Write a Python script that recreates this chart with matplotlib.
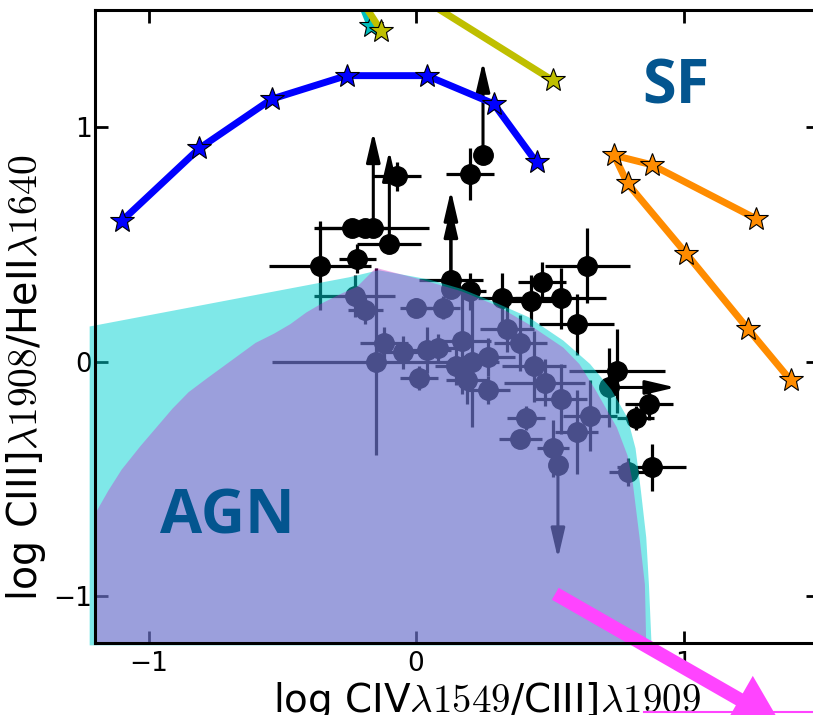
import matplotlib
matplotlib.use("Agg")
import matplotlib.pyplot as plt
import numpy as np

plt.rcParams['mathtext.fontset'] = 'cm'
plt.rcParams['font.family'] = ['DejaVu Sans']

# ---- model tracks (stars) ----
blue_x = [-1.10, -0.81, -0.54, -0.26, 0.04, 0.29, 0.45]
blue_y = [0.60, 0.91, 1.12, 1.22, 1.22, 1.10, 0.85]
yellow_x = [-0.13, -0.22, -0.05, 0.51]
yellow_y = [1.41, 1.57, 1.60, 1.20]
cyan_x = [-0.17, -0.23]
cyan_y = [1.43, 1.60]
orange_x = [1.27, 0.88, 0.74, 0.79, 1.01, 1.24, 1.40]
orange_y = [0.61, 0.84, 0.88, 0.76, 0.46, 0.14, -0.08]

# ---- observed points ----
pt_x = [-0.36, -0.22, -0.24, -0.19, -0.16, -0.10, -0.07, 0.20, 0.25, 0.13, 0.13,
        0.20, 0.32, 0.43, 0.47, 0.54, 0.64, 0.60, 0.75, 0.72, 0.87, 0.82, 0.88,
        -0.23, -0.19, -0.15, -0.12, -0.05, 0.00, 0.04, 0.01, 0.10, 0.17, 0.15,
        0.21, 0.19, 0.27, 0.27, 0.34, 0.39, 0.44, 0.48, 0.54, 0.41, 0.39, 0.51,
        0.60, 0.65, 0.53, 0.79, 0.08]
pt_y = [0.41, 0.44, 0.57, 0.57, 0.57, 0.50, 0.79, 0.80, 0.88, 0.35, 0.31,
        0.30, 0.27, 0.26, 0.34, 0.27, 0.41, 0.16, -0.04, -0.11, -0.18, -0.24, -0.45,
        0.28, 0.22, 0.00, 0.08, 0.04, 0.23, 0.05, -0.07, 0.23, 0.09, -0.02,
        0.00, -0.08, 0.02, -0.12, 0.14, 0.08, -0.02, -0.09, -0.16, -0.24, -0.33, -0.37,
        -0.30, -0.23, -0.44, -0.47, 0.06]
pt_xerr = [0.19, 0.07, 0.14, 0.05, 0.21, 0.12, 0.09, 0.09, 0.0, 0.12, 0.0,
           0.06, 0.09, 0.09, 0.09, 0.17, 0.16, 0.14, 0.18, 0.0, 0.09, 0.07, 0.13,
           0.15, 0.065, 0.39, 0.09, 0.08, 0.06, 0.09, 0.07, 0.065, 0.11, 0.08,
           0.10, 0.08, 0.10, 0.08, 0.10, 0.10, 0.12, 0.15, 0.10, 0.07, 0.08, 0.06,
           0.08, 0.10, 0.0, 0.07, 0.07]
pt_yerr = [0.19, 0.06, 0.03, 0.04, 0.0, 0.0, 0.06, 0.11, 0.0, 0.0, 0.0,
           0.08, 0.11, 0.11, 0.085, 0.13, 0.16, 0.13, 0.18, 0.17, 0.07, 0.05, 0.10,
           0.09, 0.06, 0.40, 0.07, 0.07, 0.04, 0.10, 0.05, 0.05, 0.23, 0.08,
           0.28, 0.10, 0.08, 0.06, 0.10, 0.12, 0.15, 0.10, 0.15, 0.05, 0.04, 0.12,
           0.18, 0.15, 0.0, 0.06, 0.06]

# limits (arrows)
up_x = [-0.16, -0.10, 0.25, 0.13, 0.13]
up_y = [0.57, 0.50, 0.88, 0.35, 0.31]
up_len = [0.41, 0.40, 0.40, 0.38, 0.35]
right_x = [0.72]
right_y = [-0.11]
right_len = [0.25]
down_x = [0.53]
down_y = [-0.44]
down_len = [0.40]

# ---- diagnostic regions ----
reg1_x = [-1.22, -0.62, -0.25, -0.14, 0.05, 0.17, 0.30, 0.42, 0.55, 0.65, 0.73,
          0.79, 0.82, 0.84, 0.86, 0.87, 0.88, -1.22]
reg1_y = [0.15, 0.28, 0.36, 0.39, 0.35, 0.31, 0.25, 0.19, 0.09, -0.01, -0.12,
          -0.24, -0.37, -0.55, -0.75, -0.95, -1.21, -1.21]
reg2_x = [-1.20, -1.15, -1.10, -1.03, -0.97, -0.91, -0.85, -0.78, -0.72, -0.66,
          -0.60, -0.53, -0.47, -0.41, -0.35, -0.28, -0.22, -0.15,
          0.02, 0.17, 0.30, 0.42, 0.55, 0.61, 0.67, 0.75, 0.79, 0.81, 0.835, 0.855,
          0.86, -1.20]
reg2_y = [-0.65, -0.55, -0.46, -0.36, -0.28, -0.20, -0.13, -0.07, -0.02, 0.03,
          0.08, 0.12, 0.16, 0.21, 0.25, 0.29, 0.32, 0.40,
          0.35, 0.30, 0.24, 0.16, 0.06, -0.01, -0.12, -0.28, -0.40, -0.52, -0.75, -0.95,
          -1.21, -1.21]

fig = plt.figure(figsize=(8.13, 7.15), dpi=100)
ax = fig.add_axes([95/813, (715-643)/715, (817.5-95)/813, (643-10)/715])
ax.set_xlim(-1.2, 1.5)
ax.set_ylim(-1.2, 1.5)

# tracks
ax.plot(cyan_x, cyan_y, '-', color='#00bfbf', lw=5, marker='*', ms=18,
        mfc='#00bfbf', mec='k', mew=0.8, zorder=4)
ax.plot(yellow_x, yellow_y, '-', color='#bfbf00', lw=5, marker='*', ms=18,
        mfc='#bfbf00', mec='k', mew=0.8, zorder=4)
ax.plot(blue_x, blue_y, '-', color='#0000ff', lw=5, marker='*', ms=18,
        mfc='#0000ff', mec='k', mew=0.8, zorder=4)
ax.plot(orange_x, orange_y, '-', color='#ff8c00', lw=5, marker='*', ms=18,
        mfc='#ff8c00', mec='k', mew=0.8, zorder=4)

# data points
ax.errorbar(pt_x, pt_y, xerr=pt_xerr, yerr=pt_yerr, fmt='o', color='k', ms=14,
            elinewidth=2.3, capsize=0, zorder=3)
astyle = '-|>,head_length=1.8,head_width=0.42'
for x, y, L in zip(up_x, up_y, up_len):
    ax.annotate('', xy=(x, y + L), xytext=(x, y),
                arrowprops=dict(arrowstyle=astyle, color='k', lw=2.2,
                                shrinkA=0, shrinkB=0, mutation_scale=10), zorder=3)
for x, y, L in zip(right_x, right_y, right_len):
    ax.annotate('', xy=(x + L, y), xytext=(x, y),
                arrowprops=dict(arrowstyle=astyle, color='k', lw=2.2,
                                shrinkA=0, shrinkB=0, mutation_scale=10), zorder=3)
for x, y, L in zip(down_x, down_y, down_len):
    ax.annotate('', xy=(x, y - L), xytext=(x, y),
                arrowprops=dict(arrowstyle=astyle, color='k', lw=2.2,
                                shrinkA=0, shrinkB=0, mutation_scale=10), zorder=3)

# regions over the points
ax.fill(reg1_x, reg1_y, color='#00d2d2', alpha=0.5, lw=0, zorder=5, clip_on=False)
ax.fill(reg2_x, reg2_y, color='#cd1fc7', alpha=0.36, lw=0, zorder=6)

# labels in the plot
ax.text(-0.705, -0.667, 'AGN', fontsize=44, fontweight='bold', color='#03558f',
        family=['Open Sans', 'DejaVu Sans'], ha='center', va='center', zorder=8)
ax.text(0.97, 1.166, 'SF', fontsize=44, fontweight='bold', color='#03558f',
        family=['Open Sans', 'DejaVu Sans'], ha='center', va='center', zorder=8)

# magenta arrow leaving the axes
ax.annotate('', xy=(1.36, -1.54), xytext=(0.52, -0.99),
            arrowprops=dict(arrowstyle='simple,head_length=1.3,head_width=1.5,tail_width=0.38',
                            color='#ff44ff', lw=0, shrinkA=0, shrinkB=0,
                            mutation_scale=26),
            annotation_clip=False, zorder=9)
ax.plot([0.85, 1.5], [-1.495, -1.495], color='#ff44ff', lw=1.5, clip_on=False, zorder=9)

for s in ax.spines.values():
    s.set_linewidth(2.2)
    s.set_zorder(10)
ax.set_xticks([-1, 0, 1])
ax.set_yticks([-1, 0, 1])
ax.tick_params(direction='in', length=9, width=2, top=True, right=True,
               labelsize=19)
ax.tick_params(axis='x', pad=6)
ax.tick_params(axis='y', pad=2)

ax.set_xlabel(r'log CIV$\lambda1549$/CIII]$\lambda1909$', fontsize=28)
ax.set_ylabel(r'log CIII]$\lambda1908$/HeII$\lambda1640$', fontsize=28.5)
ax.xaxis.set_label_coords((487 - 95) / 722.5, (643 - 680) / 633)
ax.yaxis.set_label_coords((48 - 95) / 722.5, (643 - 378) / 633)

fig.savefig('out.png', dpi=100)
